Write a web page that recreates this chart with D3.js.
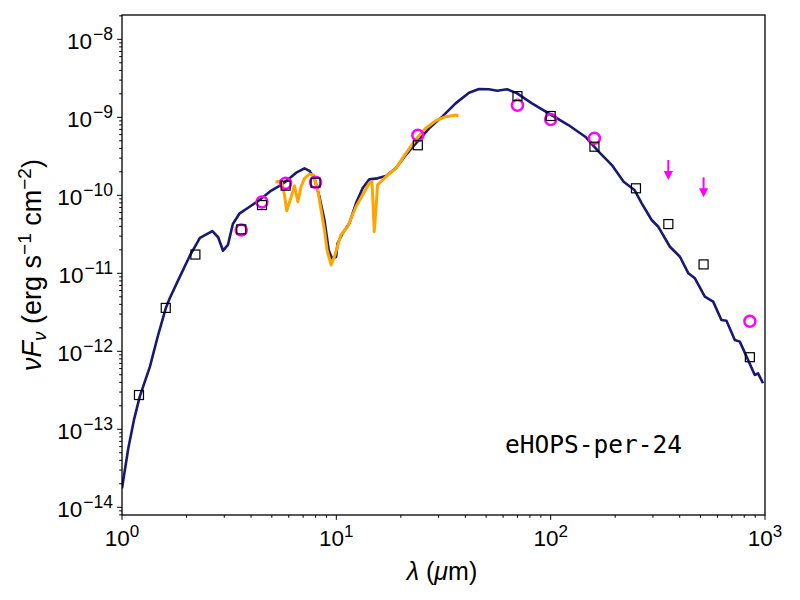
<!DOCTYPE html>
<html>
<head>
<meta charset="utf-8">
<script src="https://cdn.jsdelivr.net/npm/d3@7"></script>
<style>
  body { margin: 0; background: #fff; }
  svg { display: block; }
</style>
</head>
<body>
<svg id="sed" width="800" height="600"></svg>
<script>
// model SED (wavelength in micron, nuFnu in erg s^-1 cm^-2)
const modelWave = [1.00, 1.07, 1.137, 1.21, 1.35, 1.47, 1.6, 1.67, 1.86, 2.07, 2.31, 2.64, 2.81, 2.96, 3.12, 3.29,
  3.54, 3.94, 4.38, 4.97, 5.53, 6.05, 6.5, 7.1, 7.49, 7.9, 8.34, 8.8, 9.21, 9.53, 9.97, 10.14, 10.7, 11.5,
  12.35, 13.26, 14.24, 15.57, 17.03, 18.95, 21.1, 23.5, 27.1, 31.2, 36.0, 41.6, 46.3, 51.5, 56.3, 62.6, 69.7,
  81.8, 97.9, 121, 145, 167, 193, 219, 246, 266, 296, 318, 360, 401, 439, 471, 524, 573, 626, 661, 723, 763,
  896, 928, 979];
const modelFlux = [1.75e-14, 5.7e-14, 1.32e-13, 2.62e-13, 6.35e-13, 1.57e-12, 3.56e-12, 4.78e-12, 9.0e-12, 1.67e-11,
  2.84e-11, 3.48e-11, 2.9e-11, 1.95e-11, 2.31e-11, 4.29e-11, 5.88e-11, 7.14e-11, 8.7e-11, 1.15e-10, 1.36e-10,
  1.65e-10, 1.95e-10, 2.22e-10, 2.06e-10, 1.65e-10, 9.6e-11, 4.82e-11, 1.99e-11, 1.56e-11, 1.62e-11, 2.43e-11,
  3.26e-11, 4.38e-11, 7.9e-11, 1.23e-10, 1.6e-10, 1.65e-10, 1.77e-10, 2.22e-10, 3.29e-10, 4.64e-10, 7.23e-10,
  1.02e-9, 1.51e-9, 2.07e-9, 2.31e-9, 2.29e-9, 2.19e-9, 2.29e-9, 2.03e-9, 1.51e-9, 1.12e-9, 7.96e-10, 5.64e-10,
  3.65e-10, 2.44e-10, 1.49e-10, 1.17e-10, 7.9e-11, 4.82e-11, 3.95e-11, 2.19e-11, 1.63e-11, 1.0e-11, 8.63e-12,
  5.01e-12, 4.33e-12, 2.52e-12, 2.47e-12, 1.4e-12, 1.33e-12, 4.97e-13, 5.22e-13, 3.89e-13];

// IRS spectrum
const irsWave = [5.2, 5.53, 5.73, 5.87, 6.16, 6.38, 6.61, 6.85, 7.1, 7.49, 7.82, 8.19, 8.49, 8.8, 9.05, 9.45, 9.79,
  10.5, 11.29, 12.35, 13.26, 14.24, 14.66, 14.86, 15.02, 15.3, 15.57, 17.03, 18.95, 21.1, 23.5, 26.1, 29.1, 32.4,
  36.0, 37.1];
const irsFlux = [1.47e-10, 1.54e-10, 1.01e-10, 6.35e-11, 9.6e-11, 1.32e-10, 8.28e-11, 1.29e-10, 1.65e-10, 1.87e-10,
  1.82e-10, 1.17e-10, 6.48e-11, 3.59e-11, 1.99e-11, 1.28e-11, 1.63e-11, 3.1e-11, 3.95e-11, 7.14e-11, 1.01e-10,
  1.43e-10, 1.49e-10, 7.14e-11, 3.41e-11, 6.48e-11, 1.36e-10, 1.73e-10, 2.22e-10, 3.45e-10, 5.22e-10, 7.23e-10,
  9.04e-10, 1.02e-9, 1.07e-9, 1.04e-9];

// observed photometry
const obsWave = [3.6, 4.5, 5.8, 8.0, 24, 70, 100, 160, 850];
const obsFlux = [3.6e-11, 8.2e-11, 1.43e-10, 1.47e-10, 5.9e-10, 1.43e-9, 9.4e-10, 5.4e-10, 2.43e-12];

// upper limits
const limWave = [354, 517];
const limFlux = [2.84e-10, 1.7e-10];

// model photometry
const fitWave = [1.2, 1.6, 2.2, 3.6, 4.5, 5.8, 8.0, 24, 70, 100, 160, 250, 354, 517, 850];
const fitFlux = [2.75e-13, 3.6e-12, 1.74e-11, 3.66e-11, 7.5e-11, 1.33e-10, 1.45e-10, 4.38e-10, 1.87e-9, 1.04e-9,
  4.2e-10, 1.23e-10, 4.28e-11, 1.3e-11, 8.4e-13];

const xTicks = [1, 10, 100, 1000];
const xTickExp = ["0", "1", "2", "3"];
const yTicks = [1e-14, 1e-13, 1e-12, 1e-11, 1e-10, 1e-9, 1e-8];
const yTickExp = ["\u221214", "\u221213", "\u221212", "\u221211", "\u221210", "\u22129", "\u22128"];

const sourceName = "eHOPS-per-24";

const svg = d3.select("#sed");
const mLeft = 122, mRight = 765, mTop = 15, mBottom = 515;
const font = "Liberation Sans, Arial, Helvetica, sans-serif";

const x = d3.scaleLog().domain([1, 1000]).range([mLeft, mRight]);
const y = d3.scaleLog().domain([Math.pow(10, -14.099), Math.pow(10, -7.688)]).range([mBottom, mTop]);

svg.append("clipPath").attr("id", "clip")
  .append("rect").attr("x", mLeft).attr("y", mTop).attr("width", mRight - mLeft).attr("height", mBottom - mTop);

const plot = svg.append("g").attr("clip-path", "url(#clip)");

const line = d3.line().x(d => x(d[0])).y(d => y(d[1]));

plot.append("path")
  .datum(d3.zip(modelWave, modelFlux))
  .attr("d", line)
  .attr("fill", "none")
  .attr("stroke", "#191970")
  .attr("stroke-width", 2.6)
  .attr("stroke-linejoin", "round");

plot.append("path")
  .datum(d3.zip(irsWave, irsFlux))
  .attr("d", line)
  .attr("fill", "none")
  .attr("stroke", "#ffa500")
  .attr("stroke-width", 3)
  .attr("stroke-linejoin", "round");

plot.selectAll("circle.obs")
  .data(d3.zip(obsWave, obsFlux))
  .join("circle")
  .attr("class", "obs")
  .attr("cx", d => x(d[0]))
  .attr("cy", d => y(d[1]))
  .attr("r", 5.5)
  .attr("fill", "none")
  .attr("stroke", "#ff00ff")
  .attr("stroke-width", 2.5);

plot.selectAll("rect.fit")
  .data(d3.zip(fitWave, fitFlux))
  .join("rect")
  .attr("class", "fit")
  .attr("x", d => x(d[0]) - 4.5)
  .attr("y", d => y(d[1]) - 4.5)
  .attr("width", 9)
  .attr("height", 9)
  .attr("fill", "none")
  .attr("stroke", "#000")
  .attr("stroke-width", 1.2);

// upper limit arrows
const lims = plot.selectAll("g.lim")
  .data(d3.zip(limWave, limFlux))
  .join("g")
  .attr("class", "lim")
  .attr("transform", d => `translate(${x(d[0])},${y(d[1])})`);
lims.append("line")
  .attr("x1", 0).attr("y1", 0).attr("x2", 0).attr("y2", 14)
  .attr("stroke", "#ff00ff").attr("stroke-width", 2);
lims.append("path")
  .attr("d", "M-4.6,11 L4.6,11 L0,20 Z")
  .attr("fill", "#ff00ff");

// frame
svg.append("rect")
  .attr("x", mLeft).attr("y", mTop).attr("width", mRight - mLeft).attr("height", mBottom - mTop)
  .attr("fill", "none").attr("stroke", "#000").attr("stroke-width", 1.3);

// minor ticks
function minors(lo, hi) {
  const out = [];
  for (let e = Math.floor(Math.log10(lo)); e <= Math.ceil(Math.log10(hi)); e++) {
    for (let m = 2; m <= 9; m++) {
      const v = m * Math.pow(10, e);
      if (v >= lo && v <= hi) out.push(v);
    }
  }
  return out;
}

const axes = svg.append("g").attr("stroke", "#000").attr("stroke-width", 1);
axes.selectAll("line.xmin").data(minors(1, 1000)).join("line")
  .attr("x1", d => x(d)).attr("x2", d => x(d)).attr("y1", mBottom).attr("y2", mBottom + 2.8);
axes.selectAll("line.xmaj").data(xTicks).join("line")
  .attr("x1", d => x(d)).attr("x2", d => x(d)).attr("y1", mBottom).attr("y2", mBottom + 4.9);
axes.selectAll("line.ymin").data(minors(y.domain()[0], y.domain()[1])).join("line")
  .attr("y1", d => y(d)).attr("y2", d => y(d)).attr("x1", mLeft).attr("x2", mLeft - 2.8);
axes.selectAll("line.ymaj").data(yTicks).join("line")
  .attr("y1", d => y(d)).attr("y2", d => y(d)).attr("x1", mLeft).attr("x2", mLeft - 4.9);

// tick labels
const xl = svg.selectAll("text.xt").data(xTicks).join("text")
  .attr("class", "xt")
  .attr("x", d => x(d))
  .attr("y", 546)
  .attr("text-anchor", "middle")
  .attr("font-family", font)
  .attr("font-size", 22.5);
xl.append("tspan").text("10");
xl.append("tspan").attr("dy", -9).attr("font-size", 17).text((d, i) => xTickExp[i]);

const yl = svg.selectAll("text.yt").data(yTicks).join("text")
  .attr("class", "yt")
  .attr("x", 113)
  .attr("y", d => y(d) + 10)
  .attr("text-anchor", "end")
  .attr("font-family", font)
  .attr("font-size", 22.5);
yl.append("tspan").text("10");
yl.append("tspan").attr("dy", -9).attr("dx", 1).attr("font-size", 17.5).text((d, i) => yTickExp[i]);

// axis labels
const xlab = svg.append("text")
  .attr("x", 442).attr("y", 580)
  .attr("text-anchor", "middle")
  .attr("font-family", font)
  .attr("font-size", 25);
xlab.append("tspan").attr("font-style", "italic").text("\u03bb");
xlab.append("tspan").text(" (");
xlab.append("tspan").attr("font-style", "italic").text("\u03bc");
xlab.append("tspan").text("m)");

const ylab = svg.append("text")
  .attr("transform", "translate(41,265) rotate(-90)")
  .attr("text-anchor", "middle")
  .attr("font-family", font)
  .attr("font-size", 27);
ylab.append("tspan").attr("font-style", "italic").text("\u03bdF");
ylab.append("tspan").attr("font-style", "italic").attr("font-size", 19).attr("dy", 5).text("\u03bd");
ylab.append("tspan").attr("dy", -5).text(" (erg s");
ylab.append("tspan").attr("font-size", 19).attr("dy", -10).text("\u22121");
ylab.append("tspan").attr("dy", 10).text(" cm");
ylab.append("tspan").attr("font-size", 19).attr("dy", -10).text("\u22122");
ylab.append("tspan").attr("dy", 10).text(")");

svg.append("text")
  .attr("x", 505).attr("y", 453)
  .attr("font-family", "DejaVu Sans Mono, monospace")
  .attr("font-size", 24.5)
  .text(sourceName);
</script>
</body>
</html>
